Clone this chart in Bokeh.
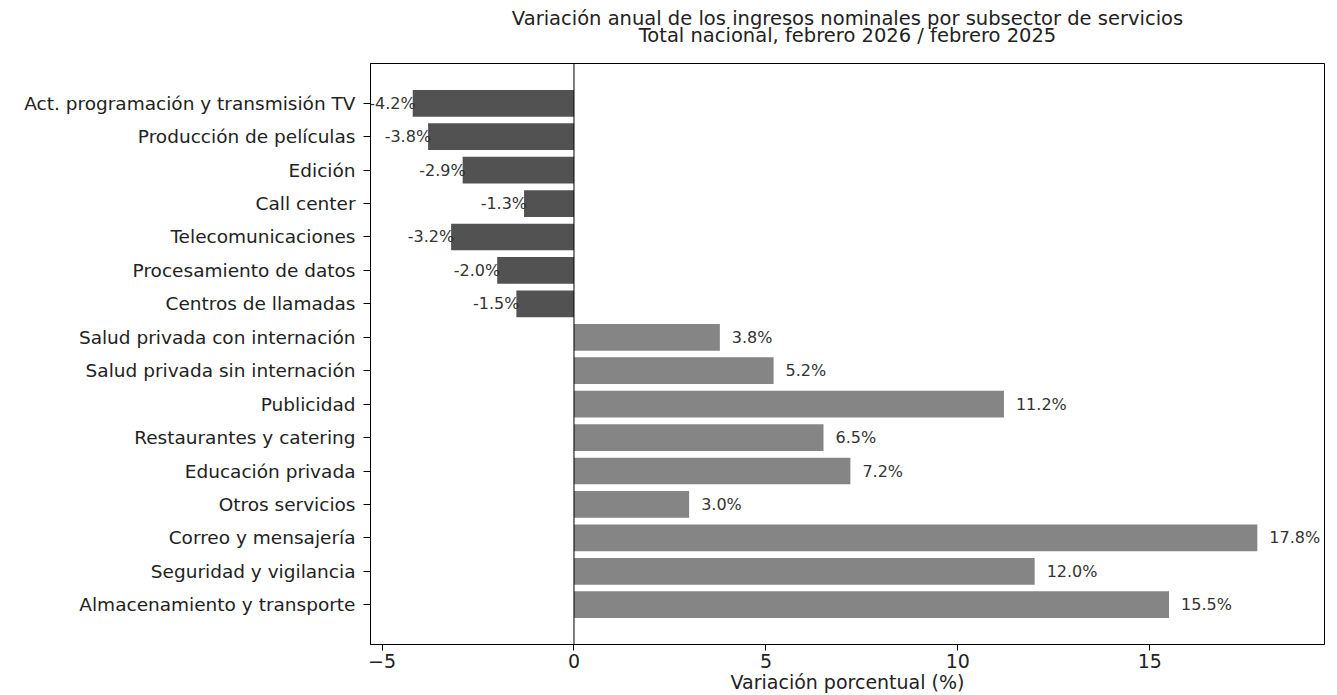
from bokeh.plotting import figure
from bokeh.models import (ColumnDataSource, Range1d, FixedTicker, CustomJSTickFormatter,
                          LabelSet, Span, Title)
from bokeh.core.properties import value
from bokeh.embed import file_html
from bokeh.resources import INLINE

# ---------------- data ----------------
categories = [
    "Act. programación y transmisión TV",
    "Producción de películas",
    "Edición",
    "Call center",
    "Telecomunicaciones",
    "Procesamiento de datos",
    "Centros de llamadas",
    "Salud privada con internación",
    "Salud privada sin internación",
    "Publicidad",
    "Restaurantes y catering",
    "Educación privada",
    "Otros servicios",
    "Correo y mensajería",
    "Seguridad y vigilancia",
    "Almacenamiento y transporte",
]
values = [-4.2, -3.8, -2.9, -1.3, -3.2, -2.0, -1.5,
          3.8, 5.2, 11.2, 6.5, 7.2, 3.0, 17.8, 12.0, 15.5]
x_ticks = [-5, 0, 5, 10, 15]
title_line1 = "Variación anual de los ingresos nominales por subsector de servicios"
title_line2 = "Total nacional, febrero 2026 / febrero 2025"
x_label = "Variación porcentual (%)"

NEG_COLOR = "#525252"
POS_COLOR = "#858585"
FONT = "DejaVu Sans"
TXT = "#222222"

n = len(categories)
ypos = list(range(n))
colors = [NEG_COLOR if v < 0 else POS_COLOR for v in values]
labels = [f"{v:.1f}%" for v in values]

src = ColumnDataSource(dict(y=ypos, value=values, color=colors, label=labels))
neg = ColumnDataSource(dict(y=[y for y, v in zip(ypos, values) if v < 0],
                            value=[v for v in values if v < 0],
                            label=[l for l, v in zip(labels, values) if v < 0]))
pos = ColumnDataSource(dict(y=[y for y, v in zip(ypos, values) if v >= 0],
                            value=[v for v in values if v >= 0],
                            label=[l for l, v in zip(labels, values) if v >= 0]))

# matplotlib-like 5% margins; a little extra room on the right for the last label
vmin, vmax = min(values), max(values)
span_x = vmax - vmin
xr = Range1d(vmin - 0.05 * span_x, vmax + 0.05 * span_x + 0.65)
ymarg = 0.05 * (n - 1 + 0.8)
yr = Range1d(n - 1 + 0.4 + ymarg, -0.4 - ymarg)

p = figure(width=1337, height=695, x_range=xr, y_range=yr,
           output_backend="svg", toolbar_location=None,
           min_border_left=370, min_border_right=13,
           min_border_top=63, min_border_bottom=49)

p.hbar(y="y", left=0, right="value", height=0.8, fill_color="color",
       line_color=None, source=src)

p.add_layout(Span(location=0, dimension="height", line_color="black", line_width=1))

p.xgrid.visible = False
p.ygrid.visible = False
p.outline_line_color = "black"
p.outline_line_width = 1
p.background_fill_color = "white"
p.border_fill_color = "white"

p.yaxis.ticker = FixedTicker(ticks=ypos)
p.yaxis.formatter = CustomJSTickFormatter(
    args=dict(labels=categories),
    code="const i = Math.round(tick); return (i >= 0 && i < labels.length) ? labels[i] : '';")
p.yaxis.minor_tick_line_color = None
p.yaxis.major_tick_out = 7
p.yaxis.major_tick_in = 0
p.yaxis.major_label_standoff = 8
p.yaxis.major_label_text_font = FONT
p.yaxis.major_label_text_font_size = "18.5px"
p.yaxis.major_label_text_color = TXT
p.yaxis.axis_line_color = "black"

p.xaxis.ticker = FixedTicker(ticks=x_ticks)
p.xaxis.formatter = CustomJSTickFormatter(
    code="return tick < 0 ? '\\u2212' + Math.abs(tick) : String(tick);")
p.xaxis.minor_tick_line_color = None
p.xaxis.major_tick_out = 6
p.xaxis.major_tick_in = 0
p.xaxis.major_label_standoff = 3
p.xaxis.major_label_text_font = FONT
p.xaxis.major_label_text_font_size = "19px"
p.xaxis.major_label_text_color = TXT
p.xaxis.axis_line_color = "black"
p.xaxis.axis_label = x_label
p.xaxis.axis_label_standoff = 0
p.xaxis.axis_label_text_font = FONT
p.xaxis.axis_label_text_font_size = "19px"
p.xaxis.axis_label_text_font_style = "normal"
p.xaxis.axis_label_text_color = TXT

lab_style = dict(text_font=value(FONT), text_font_size=value("16px"),
                 text_color="#333333", text_baseline="middle")
p.add_layout(LabelSet(x="value", y="y", text="label", source=neg, text_align="right",
                      x_offset=3, **lab_style))
p.add_layout(LabelSet(x="value", y="y", text="label", source=pos, text_align="left",
                      x_offset=12, **lab_style))

# title: two centred lines with a gap above the frame
title_style = dict(align="center", text_font=FONT, text_font_size="19.5px",
                   text_font_style="normal", text_color=TXT)
p.add_layout(Title(text=" ", align="center", text_font_size="1px", standoff=22), "above")
p.add_layout(Title(text=title_line2, standoff=-16, **title_style), "above")
p.add_layout(Title(text=title_line1, standoff=0, **title_style), "above")

open("out.html", "w").write(file_html(p, INLINE))
